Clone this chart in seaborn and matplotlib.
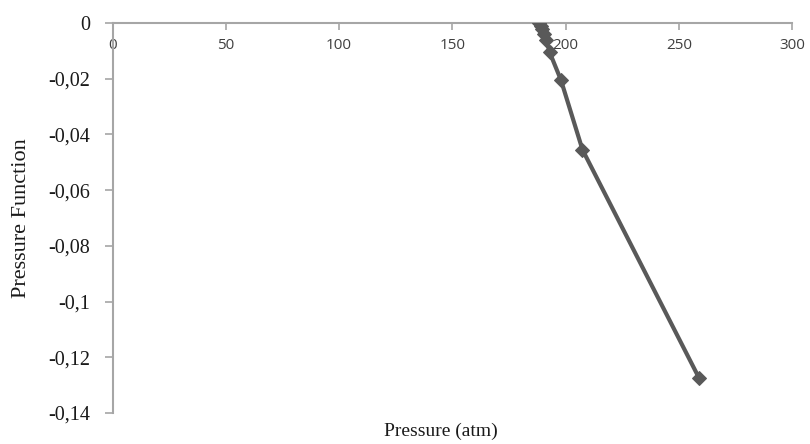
import matplotlib
matplotlib.use("Agg")
import matplotlib.pyplot as plt
import seaborn as sns
import pandas as pd

pressure = [188.5, 189.0, 189.5, 190.5, 191.5, 193.0, 198.0, 207.5, 259.0]
pressure_function = [0.0, -0.001, -0.002, -0.004, -0.006, -0.0105, -0.0205, -0.0455, -0.1275]
x_ticks = [0, 50, 100, 150, 200, 250, 300]
y_ticks = [0, -0.02, -0.04, -0.06, -0.08, -0.1, -0.12, -0.14]
y_tick_labels = ["0", "-0,02", "-0,04", "-0,06", "-0,08", "-0,1", "-0,12", "-0,14"]

sns.set_style("white")
plt.rcParams["font.family"] = ["Liberation Serif", "DejaVu Serif"]

df = pd.DataFrame({"Pressure": pressure, "PF": pressure_function})

fig = plt.figure(figsize=(8.1, 4.44), dpi=100)
ax = fig.add_axes([112.5 / 810, 1 - 413 / 444, (792 - 112.5) / 810, 390 / 444])

sns.lineplot(data=df, x="Pressure", y="PF", ax=ax, sort=False, color="#595959",
             linewidth=3, marker="D", markersize=7.5, markeredgecolor="#595959",
             markerfacecolor="#595959")

ax.set_xlim(0, 300)
ax.set_ylim(-0.14, 0)
ax.set_xticks(x_ticks)
ax.set_xticklabels([str(v) for v in x_ticks])
ax.set_yticks(y_ticks)
ax.set_yticklabels(y_tick_labels)

for s in ["top", "right"]:
    ax.spines[s].set_visible(False)
ax.spines["bottom"].set_position(("data", 0))
for s in ["bottom", "left"]:
    ax.spines[s].set_color("#a6a6a6")
    ax.spines[s].set_linewidth(1.5)
ax.spines["bottom"].set_zorder(0)

ax.tick_params(axis="x", direction="out", length=5, width=1.2, color="#a6a6a6", pad=6,
               bottom=True, labelsize=11, labelcolor="#404040", labelfontfamily="Open Sans")
ax.tick_params(axis="y", direction="out", length=6, width=1.2, color="#a6a6a6", pad=10,
               left=True, labelsize=14.5, labelcolor="#1a1a1a")

ax.set_xlabel("Pressure (atm)", fontsize=14, color="#1a1a1a")
ax.set_ylabel("Pressure Function", fontsize=16, color="#1a1a1a")
ax.xaxis.set_label_coords((441 - 112.5) / (792 - 112.5), -(423 - 413) / 390)
ax.yaxis.set_label_coords(-(112.5 - 22) / (792 - 112.5), 0.5)
ax.yaxis.label.set_va("center")
ax.grid(False)

fig.savefig("out.png", dpi=100)
